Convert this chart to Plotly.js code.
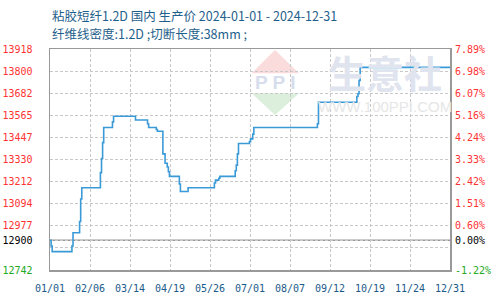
<!DOCTYPE html>
<html>
<head>
<meta charset="utf-8">
<script src="https://cdn.plot.ly/plotly-3.0.1.min.js"></script>
<style>
html,body{margin:0;padding:0;background:#fff;}
#chart{width:500px;height:300px;}
</style>
</head>
<body>
<div id="chart"></div>
<script>
// ---- data ----
const dates = ['2024-01-01','2024-01-02','2024-01-03','2024-01-21','2024-01-22','2024-01-28','2024-01-29','2024-01-30',
  '2024-02-16','2024-02-17','2024-02-18','2024-02-19','2024-02-27','2024-02-28','2024-03-19','2024-03-30','2024-03-31',
  '2024-04-07','2024-04-08','2024-04-13','2024-04-15','2024-04-17','2024-04-18','2024-04-19','2024-04-28','2024-04-29',
  '2024-05-06','2024-05-30','2024-05-31','2024-06-03','2024-06-04','2024-06-18','2024-06-19','2024-06-20','2024-06-21',
  '2024-07-01','2024-07-02','2024-07-04','2024-07-05','2024-09-01','2024-09-02','2024-10-07','2024-10-08','2024-10-09',
  '2024-10-10','2024-12-31'];
const prices = [12900,12870,12840,12870,12940,13000,13120,13180,
  13260,13335,13420,13500,13530,13560,13540,13520,13500,
  13490,13480,13360,13310,13290,13265,13240,13200,13160,
  13180,13205,13220,13230,13240,13270,13300,13360,13415,
  13425,13440,13465,13500,13520,13635,13665,13680,13750,
  13820,13820];

const basePrice = 12900;
const yRange = [12742, 13918];
const yTickVals = [12742, 12859.6, 12900, 12977.2, 13094.8, 13212.4, 13330, 13447.6, 13565.2, 13682.8, 13800.4, 13918];
const yTickLeft = ['12742', '', '12900', '12977', '13094', '13212', '13330', '13447', '13565', '13682', '13800', '13918'];
const yTickRight = ['-1.22%', '', '0.00%', '0.60%', '1.51%', '2.42%', '3.33%', '4.24%', '5.16%', '6.07%', '6.98%', '7.89%'];

const xTickVals = ['2024-01-01','2024-02-06 12:00','2024-03-14','2024-04-19 12:00','2024-05-26','2024-07-01 12:00',
  '2024-08-07','2024-09-12 12:00','2024-10-19','2024-11-24 12:00','2024-12-31'];
const xTickText = ['01/01','02/06','03/14','04/19','05/26','07/01','08/07','09/12','10/19','11/24','12/31'];

const titleLine1 = '粘胶短纤1.2D 国内 生产价 2024-01-01 - 2024-12-31';
const titleLine2 = '纤维线密度:1.2D ;切断长度:38mm ;';

// ---- styling helpers ----
const RED = '#ff3333', GREEN = '#22aa22', BLACK = '#000000';
function colorFor(v){ return v > basePrice ? RED : (v < basePrice ? GREEN : BLACK); }
const leftText = yTickLeft.map((t,i)=> t ? '<span style="color:'+colorFor(yTickVals[i])+'">'+t+'</span>' : '');
const rightText = yTickRight.map((t,i)=> t ? '<span style="color:'+colorFor(yTickVals[i])+'">'+t+'</span>' : '');

const traces = [
  {x: dates, y: prices, type: 'scatter', mode: 'lines', line: {shape: 'hv', color: '#3a9ad8', width: 1.6},
   hoverinfo: 'skip', showlegend: false},
  {x: dates, y: prices, type: 'scatter', mode: 'lines', yaxis: 'y2', line: {shape: 'hv', color: 'rgba(0,0,0,0)', width: 0},
   opacity: 0, hoverinfo: 'skip', showlegend: false}
];

const tickFont = {family: '"DejaVu Sans Mono", monospace', size: 10};
const layout = {
  width: 500, height: 300,
  margin: {l: 50, r: 50, t: 49, b: 30},
  paper_bgcolor: '#fff', plot_bgcolor: 'rgba(0,0,0,0)',
  showlegend: false,
  xaxis: {
    type: 'date', range: ['2024-01-01', '2024-12-31'],
    tickmode: 'array', tickvals: xTickVals, ticktext: xTickText,
    tickfont: Object.assign({color: '#1b5a8a'}, tickFont),
    ticks: '', ticklabelstandoff: 8,
    showgrid: true, gridcolor: '#c8c8c8', griddash: '3px,2px', gridwidth: 1,
    showline: true, linecolor: '#999', linewidth: 1.5, mirror: true,
    zeroline: false, fixedrange: true
  },
  yaxis: {
    range: yRange, tickmode: 'array', tickvals: yTickVals, ticktext: leftText,
    tickfont: tickFont, ticks: '', ticklabelstandoff: 14,
    showgrid: true, gridcolor: '#c8c8c8', griddash: '3px,2px', gridwidth: 1,
    showline: true, linecolor: '#999', linewidth: 1.5, mirror: true,
    zeroline: false, fixedrange: true
  },
  yaxis2: {
    range: yRange, overlaying: 'y', side: 'right',
    tickmode: 'array', tickvals: yTickVals, ticktext: rightText,
    tickfont: tickFont, ticks: '', ticklabelstandoff: 4,
    showgrid: false, showline: false, zeroline: false, fixedrange: true
  },
  shapes: [
    {type: 'line', xref: 'paper', x0: 0, x1: 1, yref: 'y', y0: basePrice, y1: basePrice,
     line: {color: '#999', width: 1.5}, layer: 'below'},
    // watermark logo (decorative)
    {type: 'path', xref: 'paper', yref: 'paper', path: 'M 0.504 0.89 L 0.6225 0.89 L 0.5625 0.995 Z',
     fillcolor: '#fadcdc', line: {width: 0}, layer: 'below'},
    {type: 'path', xref: 'paper', yref: 'paper', path: 'M 0.504 0.80 L 0.6225 0.80 L 0.5625 0.701 Z',
     fillcolor: '#dcefdc', line: {width: 0}, layer: 'below'}
  ],
  annotations: [
    {xref: 'paper', yref: 'paper', x: 0.5625, y: 0.848, xanchor: 'center', yanchor: 'middle', showarrow: false,
     text: '<b>P P I</b>', font: {family: 'Liberation Sans, sans-serif', size: 19, color: '#d6ddec'}},
    {xref: 'paper', yref: 'paper', x: 0.8375, y: 0.896, xanchor: 'center', yanchor: 'middle', showarrow: false,
     text: '<b>生意社</b>', font: {family: '"Noto Sans CJK SC", sans-serif', size: 38, color: '#dfe4ee'}},
    {xref: 'paper', yref: 'paper', x: 0.8375, y: 0.739, xanchor: 'center', yanchor: 'middle', showarrow: false,
     text: 'WWW.100PPI.COM', font: {family: 'Liberation Sans, sans-serif', size: 15, color: '#e6e6e6'}},
    {xref: 'paper', yref: 'paper', x: 0, y: 1, yshift: 34, xanchor: 'left', yanchor: 'middle', showarrow: false,
     text: titleLine1, font: {family: '"Noto Sans CJK SC", sans-serif', size: 12.5, color: '#1f5f8b'}},
    {xref: 'paper', yref: 'paper', x: 0, y: 1, yshift: 16, xanchor: 'left', yanchor: 'middle', showarrow: false,
     text: titleLine2, font: {family: '"Noto Sans CJK SC", sans-serif', size: 12.5, color: '#1f5f8b'}}
  ]
};

Plotly.newPlot('chart', traces, layout, {staticPlot: true, displayModeBar: false});
</script>
</body>
</html>
